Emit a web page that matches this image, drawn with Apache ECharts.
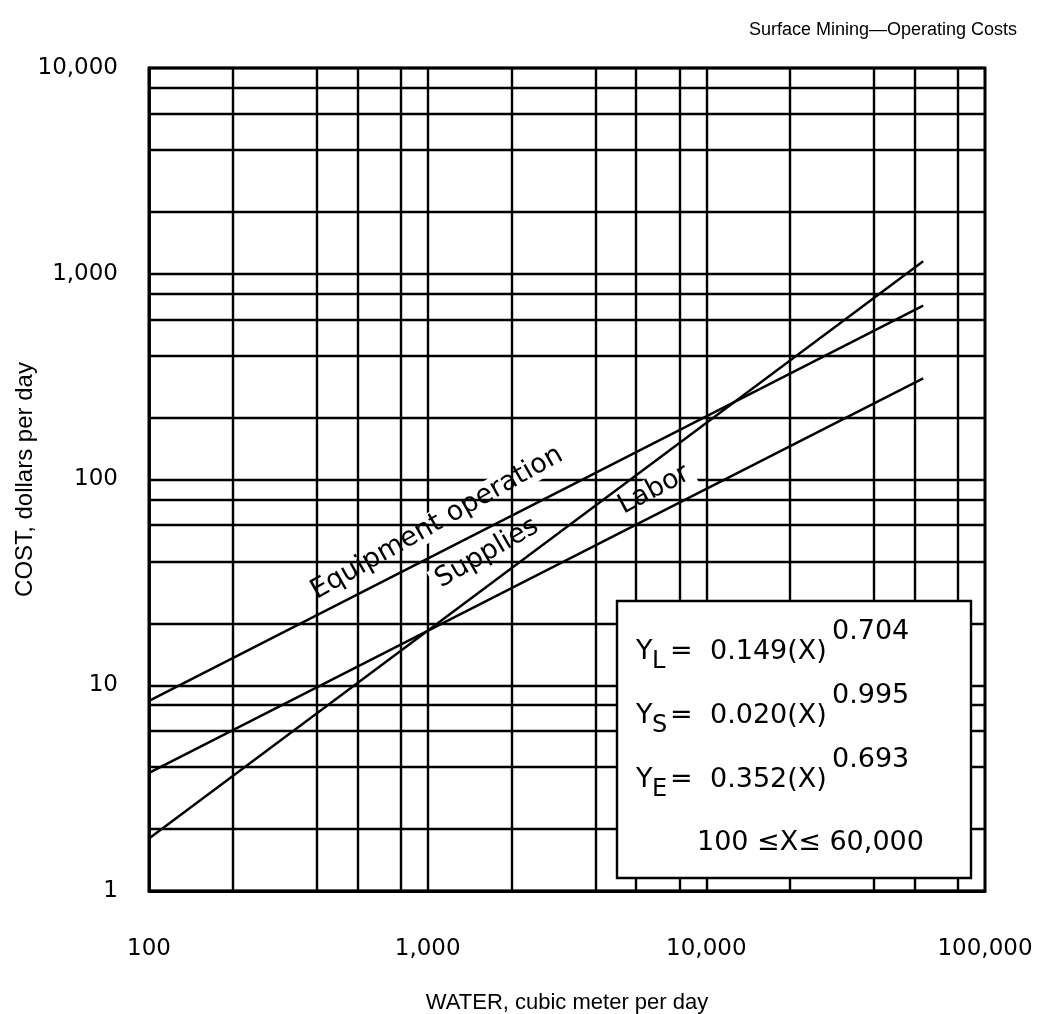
<!DOCTYPE html>
<html>
<head>
<meta charset="utf-8">
<script src="https://cdn.jsdelivr.net/npm/echarts@6/dist/echarts.min.js"></script>
<style>
  html, body { margin: 0; padding: 0; background: #fff; }
  #chart { width: 1044px; height: 1014px; }
</style>
</head>
<body>
<div id="chart"></div>
<script>
// ---- data ----
const waterX = [100, 60000];                 // cubic meter per day (line end points)
const equipmentCost = [8.4, 700];            // Equipment operation
const laborCost = [3.75, 310];               // Labor
const suppliesCost = [1.8, 1150];            // Supplies

const xTickValues = [100, 1000, 10000, 100000];
const xTickLabels = ['100', '1,000', '10,000', '100,000'];
const yTickValues = [1, 10, 100, 1000, 10000];
const yTickLabels = ['1', '10', '100', '1,000', '10,000'];

// minor grid lines as drawn on the original paper
const xMinorGrid = [200, 400, 560, 800, 2000, 4000, 5600, 8000, 20000, 40000, 56000, 80000];
const yMinorGrid = [2, 4, 6, 8, 20, 40, 60, 80, 200, 400, 600, 800, 2000, 4000, 6000, 8000];

const titleText = 'Surface Mining\u2014Operating Costs';
const xName = 'WATER, cubic meter per day';
const yName = 'COST, dollars per day';

const eqRows = [
  { sub: 'L', coef: '0.149(X)', exp: '0.704' },
  { sub: 'S', coef: '0.020(X)', exp: '0.995' },
  { sub: 'E', coef: '0.352(X)', exp: '0.693' }
];
const rangeText = '100 \u2264X\u2264 60,000';

// ---- chart ----
function pickLabel(values, labels) {
  return function (v) {
    const i = values.findIndex(t => Math.abs(Math.log10(t) - Math.log10(v)) < 1e-6);
    return i >= 0 ? labels[i] : '';
  };
}
function pairs(xs, ys) { return xs.map((x, i) => [x, ys[i]]); }

const chart = echarts.init(document.getElementById('chart'), null, { renderer: 'canvas' });

const lineStyle = { color: '#000', width: 2.4 };
const labelFont = 'DejaVu Sans';
const textFont = 'Liberation Sans';

const graphics = [];
// curve labels (white background masks the grid like the original)
function curveLabel(text, x, y, deg) {
  graphics.push({
    type: 'text', x: x, y: y, rotation: deg * Math.PI / 180, z: 3,
    style: {
      text: text, font: '27px "DejaVu Sans"', fill: '#000',
      align: 'center', verticalAlign: 'middle',
      backgroundColor: '#fff', padding: [0, 5]
    }
  });
}
curveLabel('Equipment operation', 437, 523, 29.5);
curveLabel('Supplies', 487, 553, 30);
curveLabel('Labor', 654, 490, 28);

// equation box
graphics.push({
  type: 'rect', z: 10,
  shape: { x: 617, y: 601, width: 354, height: 277 },
  style: { fill: '#fff', stroke: '#000', lineWidth: 2.4 }
});
const rowCenters = [652, 716, 780];
eqRows.forEach((r, i) => {
  const cy = rowCenters[i];
  const f = '27px "DejaVu Sans"';
  graphics.push({ type: 'text', z: 11, x: 636, y: cy, style: { text: 'Y', font: f, fill: '#000', verticalAlign: 'middle' } });
  graphics.push({ type: 'text', z: 11, x: 652, y: cy + 10, style: { text: r.sub, font: '24px "DejaVu Sans"', fill: '#000', verticalAlign: 'middle' } });
  graphics.push({ type: 'text', z: 11, x: 670, y: cy, style: { text: '=', font: f, fill: '#000', verticalAlign: 'middle' } });
  graphics.push({ type: 'text', z: 11, x: 710, y: cy, style: { text: r.coef, font: f, fill: '#000', verticalAlign: 'middle' } });
  graphics.push({ type: 'text', z: 11, x: 832, y: cy - 20, style: { text: r.exp, font: f, fill: '#000', verticalAlign: 'middle' } });
});
graphics.push({ type: 'text', z: 11, x: 697, y: 843, style: { text: rangeText, font: '27px "DejaVu Sans"', fill: '#000', verticalAlign: 'middle' } });

const option = {
  backgroundColor: '#fff',
  animation: false,
  title: {
    text: titleText, right: 22, top: 16,
    textStyle: { fontFamily: textFont, fontSize: 18, fontWeight: 'normal', color: '#000' }
  },
  grid: {
    left: 149, right: 59, top: 68, bottom: 123,
    outerBoundsMode: 'none', containLabel: false,
    show: true, borderColor: '#000', borderWidth: 2.8, backgroundColor: 'transparent'
  },
  xAxis: {
    type: 'log', logBase: 10, min: 100, max: 100000,
    name: xName, nameLocation: 'middle', nameGap: 101, nameMoveOverlap: false,
    nameTextStyle: { fontFamily: textFont, fontSize: 22, color: '#000' },
    axisLine: { show: true, lineStyle: { color: '#000', width: 2.8 } },
    axisTick: { show: false },
    axisLabel: {
      color: '#000', fontFamily: labelFont, fontSize: 23, margin: 47,
      formatter: pickLabel(xTickValues, xTickLabels), showMinLabel: true, showMaxLabel: true
    },
    splitLine: { show: true, lineStyle: { color: '#000', width: 2.4 } },
    minorTick: { show: false }, minorSplitLine: { show: false }
  },
  yAxis: {
    type: 'log', logBase: 10, min: 1, max: 10000,
    name: yName, nameLocation: 'middle', nameGap: 112, nameMoveOverlap: false,
    nameTextStyle: { fontFamily: textFont, fontSize: 24, color: '#000' },
    axisLine: { show: true, lineStyle: { color: '#000', width: 2.8 } },
    axisTick: { show: false },
    axisLabel: {
      color: '#000', fontFamily: labelFont, fontSize: 23, margin: 31,
      formatter: pickLabel(yTickValues, yTickLabels), showMinLabel: true, showMaxLabel: true
    },
    splitLine: { show: true, lineStyle: { color: '#000', width: 2.4 } }
  },
  series: [
    {
      name: 'grid', type: 'line', z: 1, silent: true,
      data: [[100, 1]], symbol: 'none', lineStyle: { width: 0 },
      markLine: {
        silent: true, symbol: ['none', 'none'], animation: false,
        label: { show: false },
        lineStyle: { color: '#000', width: 2.4, type: 'solid' },
        emphasis: { disabled: true },
        data: xMinorGrid.map(v => ({ xAxis: v })).concat(yMinorGrid.map(v => ({ yAxis: v })))
      }
    },
    { name: 'Equipment operation', type: 'line', z: 5, data: pairs(waterX, equipmentCost), symbol: 'none', lineStyle: lineStyle },
    { name: 'Supplies', type: 'line', z: 5, data: pairs(waterX, suppliesCost), symbol: 'none', lineStyle: lineStyle },
    { name: 'Labor', type: 'line', z: 5, data: pairs(waterX, laborCost), symbol: 'none', lineStyle: lineStyle }
  ],
  graphic: graphics
};
chart.setOption(option);
</script>
</body>
</html>
